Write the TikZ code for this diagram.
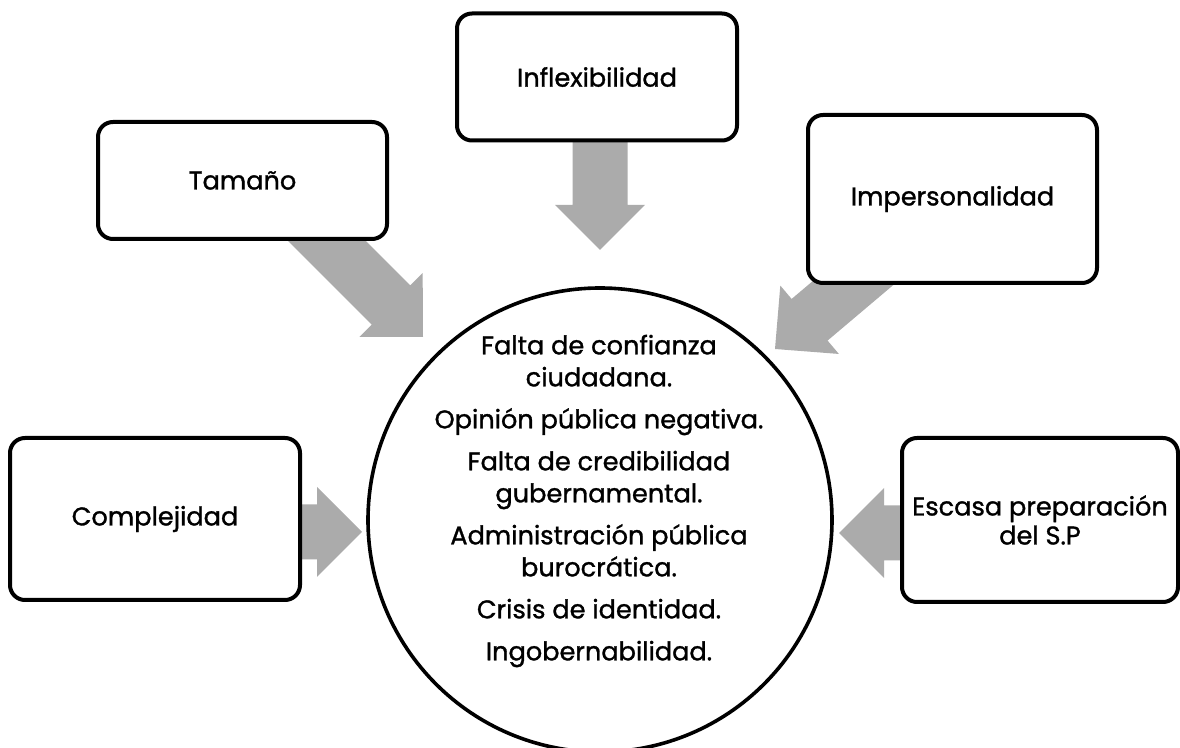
\documentclass[tikz,border=0pt]{standalone}
\usepackage{fontspec}
\setmainfont{Poppins}[FakeBold=1.2]
\usetikzlibrary{calc,backgrounds}

\definecolor{grisflecha}{RGB}{171,171,171}

% thick block arrow from #1 to the tip #2
\newcommand{\flechagruesa}[2]{%
  \fill[grisflecha] let \p1=($(#2)-(#1)$), \n1={atan2(\y1,\x1)}, \n2={veclen(\x1,\y1)} in
    ($(#1)+(\n1+90:13.75pt)$) -- ++(\n1:\n2*1pt-22.5pt) -- ++(\n1+90:8.75pt) -- (#2)
    -- ($(#2)+(\n1+180:22.5pt)+(\n1-90:22.5pt)$) -- ++(\n1+90:8.75pt)
    -- ++(\n1+180:\n2*1pt-22.5pt) -- cycle;
}

\begin{document}
\begin{tikzpicture}[
    x=0.5pt, y=-0.5pt,
    caja/.style={rectangle, draw, line width=2pt, rounded corners=7.5pt, fill=white,
      align=center, font=\fontsize{12.8}{14.5}\selectfont},
    centro/.style={circle, draw, line width=1.8pt, fill=white, minimum size=232pt, inner sep=0pt}
]
    \useasboundingbox (0,0) rectangle (1180,748);

    % Center
    \node[centro] (circ) at (600,520) {};
    \node[align=center, font=\fontsize{12.8}{16}\selectfont] (lista) at (599,501)
      {Falta de confianza\\ciudadana.\\[5pt]
       Opinión pública negativa.\\[5pt]
       Falta de credibilidad\\gubernamental.\\[5pt]
       Administración pública\\burocrática.\\[5pt]
       Crisis de identidad.\\[5pt]
       Ingobernabilidad.};

    % Boxes
    \node[caja, minimum width=140pt, minimum height=63.5pt] (infl) at (597,77) {Inflexibilidad};
    \node[caja, minimum width=144.5pt, minimum height=58.5pt] (tam) at (242.5,180.5) {Tamaño};
    \node[caja, minimum width=144.5pt, minimum height=84pt] (imp) at (952.5,199) {Impersonalidad};
    \node[caja, minimum width=145pt, minimum height=81pt] (comp) at (155,519) {Complejidad};
    \node[caja, minimum width=138pt, minimum height=82pt] (esc) at (1040,520) {Escasa preparación\\del S.P};

    % Arrow tips
    \coordinate (p1) at (600,250);
    \coordinate (p2) at (423,337);
    \coordinate (p3) at (775,349);
    \coordinate (p4) at (362,532);
    \coordinate (p5) at (839,533);
    \coordinate (s2) at (306,220);

    % Arrows
    \begin{pgfonlayer}{background}
      \flechagruesa{p1 |- infl.center}{p1}
      \flechagruesa{s2}{p2}
      \flechagruesa{imp.center}{p3}
      \flechagruesa{comp.center |- p4}{p4}
      \flechagruesa{esc.center |- p5}{p5}
    \end{pgfonlayer}
\end{tikzpicture}
\end{document}
